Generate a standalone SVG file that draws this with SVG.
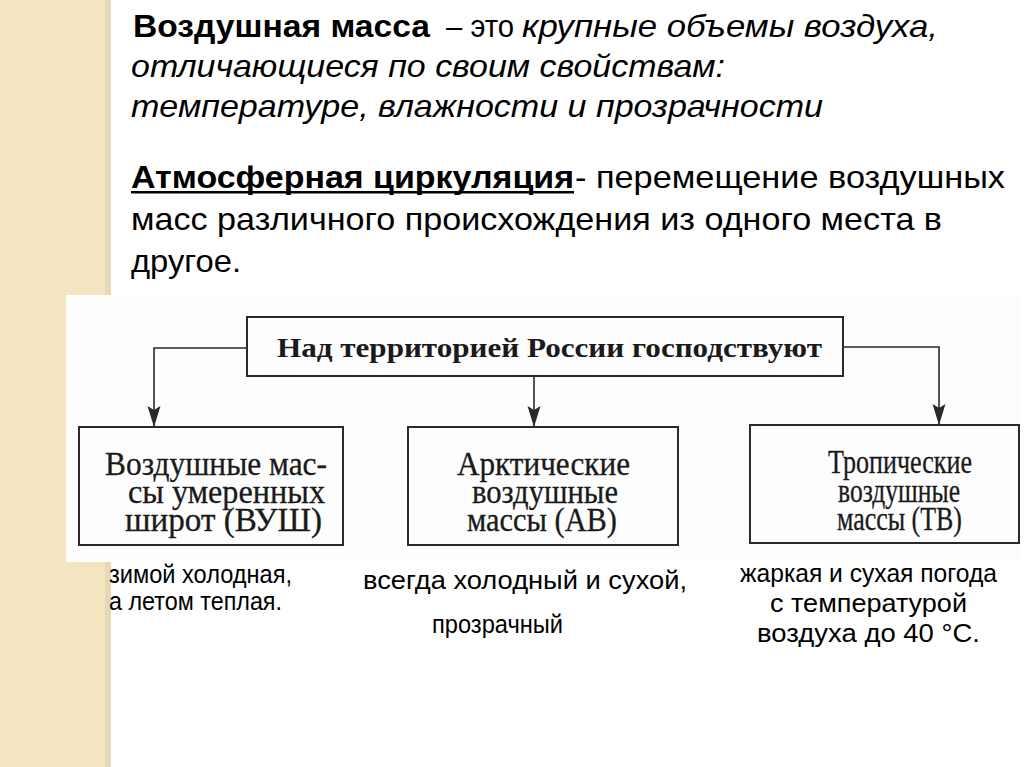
<svg xmlns="http://www.w3.org/2000/svg" width="1024" height="767" viewBox="0 0 1024 767">
<defs>
<style>
.h{font-family:"Liberation Sans",Arial,sans-serif;font-size:32px;fill:#000}
.b{font-weight:bold}
.i{font-style:italic}
.s{font-family:"Liberation Sans",Arial,sans-serif;font-size:25px;fill:#000}
.bx{fill:none;stroke:#2a2a2a;stroke-width:2}
.t{font-family:"Liberation Serif","Times New Roman",serif;font-size:33px;fill:#1a1a1a;stroke:#1a1a1a;stroke-width:0.3}
.tb{font-family:"Liberation Serif","Times New Roman",serif;font-size:27px;font-weight:bold;fill:#1a1a1a}
.c{fill:none;stroke:#2a2a2a;stroke-width:1.6}
</style>
<marker id="ah" markerUnits="userSpaceOnUse" markerWidth="22" markerHeight="14" refX="21" refY="6.5" orient="auto">
<path d="M0,0 L21,6.5 L0,13 L4,6.5 z" fill="#2a2a2a"/>
</marker>
</defs>
<rect x="0" y="0" width="1024" height="767" fill="#ffffff"/>
<rect x="0" y="0" width="105" height="767" fill="#f4e4bf"/>
<rect x="105" y="0" width="6" height="767" fill="#e6d9b8"/>

<g id="title">
<text class="h b" x="133" y="37" textLength="297" lengthAdjust="spacingAndGlyphs">Воздушная масса</text>
<text class="h" x="446" y="37" textLength="68" lengthAdjust="spacingAndGlyphs">– это</text>
<text class="h i" x="522" y="37" textLength="416" lengthAdjust="spacingAndGlyphs">крупные объемы воздуха,</text>
<text class="h i" x="131" y="77" textLength="594" lengthAdjust="spacingAndGlyphs">отличающиеся по своим свойствам:</text>
<text class="h i" x="131" y="117" textLength="692" lengthAdjust="spacingAndGlyphs">температуре, влажности и прозрачности</text>
</g>
<g id="definition">
<text class="h b" x="131" y="188" textLength="443" lengthAdjust="spacingAndGlyphs">Атмосферная циркуляция</text>
<rect x="131" y="191" width="443" height="2.5" fill="#000"/>
<text class="h" x="575" y="188" textLength="430" lengthAdjust="spacingAndGlyphs">- перемещение воздушных</text>
<text class="h" x="131" y="230" textLength="811" lengthAdjust="spacingAndGlyphs">масс различного происхождения из одного места в</text>
<text class="h" x="131" y="272" textLength="110" lengthAdjust="spacingAndGlyphs">другое.</text>
</g>

<rect x="66" y="295" width="954" height="267" fill="#fdfdfd"/>

<g id="connectors">
<path class="c" d="M247,348 H154 V427" marker-end="url(#ah)"/>
<path class="c" d="M534,376 V427" marker-end="url(#ah)"/>
<path class="c" d="M843,347 H939 V425" marker-end="url(#ah)"/>
</g>

<g id="root">
<rect class="bx" x="247" y="317" width="596" height="59"/>
<text class="tb" x="277" y="357" textLength="545" lengthAdjust="spacingAndGlyphs">Над территорией России господствуют</text>
</g>
<g id="vush">
<rect class="bx" x="79" y="427" width="264" height="118"/>
<text class="t"><tspan x="105" y="475" textLength="222" lengthAdjust="spacingAndGlyphs">Воздушные мас-</tspan><tspan x="128" y="503" textLength="197" lengthAdjust="spacingAndGlyphs">сы умеренных</tspan><tspan x="125" y="531" textLength="197" lengthAdjust="spacingAndGlyphs">широт (ВУШ)</tspan></text>
</g>
<g id="av">
<rect class="bx" x="408" y="427" width="270" height="118"/>
<text class="t"><tspan x="457" y="475" textLength="173" lengthAdjust="spacingAndGlyphs">Арктические</tspan><tspan x="472" y="503" textLength="146" lengthAdjust="spacingAndGlyphs">воздушные</tspan><tspan x="467" y="531" textLength="150" lengthAdjust="spacingAndGlyphs">массы (АВ)</tspan></text>
</g>
<g id="tv">
<rect class="bx" x="750" y="425" width="269" height="118"/>
<text class="t"><tspan x="828" y="473" textLength="144" lengthAdjust="spacingAndGlyphs">Тропические</tspan><tspan x="838" y="502" textLength="122" lengthAdjust="spacingAndGlyphs">воздушные</tspan><tspan x="837" y="530" textLength="125" lengthAdjust="spacingAndGlyphs">массы (ТВ)</tspan></text>
</g>

<g id="notes">
<text class="s" x="109" y="583" textLength="183" lengthAdjust="spacingAndGlyphs">зимой холодная,</text>
<text class="s" x="109" y="610" textLength="173" lengthAdjust="spacingAndGlyphs">а летом теплая.</text>
<text class="s" x="363" y="589" textLength="324" lengthAdjust="spacingAndGlyphs">всегда холодный и сухой,</text>
<text class="s" x="432" y="633" textLength="131" lengthAdjust="spacingAndGlyphs">прозрачный</text>
<text class="s" x="740" y="582" textLength="257" lengthAdjust="spacingAndGlyphs">жаркая и сухая погода</text>
<text class="s" x="770" y="612" textLength="197" lengthAdjust="spacingAndGlyphs">с температурой</text>
<text class="s" x="757" y="642" textLength="223" lengthAdjust="spacingAndGlyphs">воздуха до 40 °С.</text>
</g>
</svg>
